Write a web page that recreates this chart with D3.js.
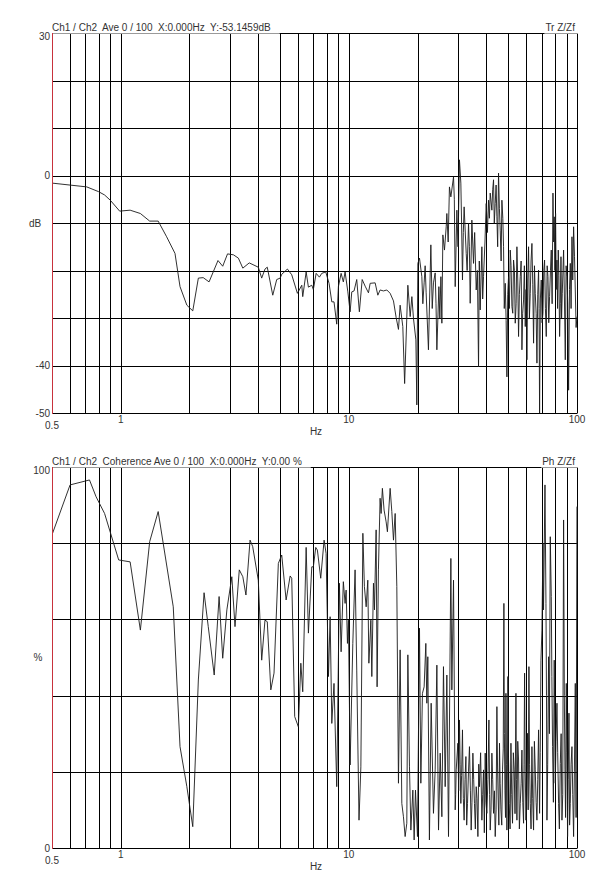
<!DOCTYPE html>
<html><head><meta charset="utf-8">
<script src="https://cdn.jsdelivr.net/npm/d3@7/dist/d3.min.js"></script>
<style>
body{margin:0;background:#fff;}
svg text{font-family:"Liberation Sans",Arial,sans-serif;font-size:10px;fill:#333;}
</style></head><body>
<svg id="chart" width="601" height="889"></svg>
<script>
// ---------- data ----------
const xDomain = [0.5, 100];
const xTickLabels = [0.5, 1, 10, 100];
const trYDomain = [-50, 30];
const trYGrid = [30, 20, 10, 0, -10, -20, -30, -40, -50];
const trYLabels = [30, 0, -40, -50];
const cohYDomain = [0, 100];
const cohYGrid = [100, 80, 60, 40, 20, 0];
const cohYLabels = [100, 0];
const trHeader = "Ch1 / Ch2  Ave 0 / 100  X:0.000Hz  Y:-53.1459dB";
const trRight = "Tr Z/Zf";
const cohHeader = "Ch1 / Ch2  Coherence Ave 0 / 100  X:0.000Hz  Y:0.00 %";
const cohRight = "Ph Z/Zf";

// transfer function magnitude [Hz, dB]
const transferDb = [
[0.50,-1.6],[0.71,-2.4],[0.80,-3.4],[0.85,-4.1],[0.90,-5.2],[0.99,-7.5],[1.10,-7.3],[1.22,-8.0],[1.34,-9.6],[1.46,-9.6],
[1.59,-12.9],[1.73,-16.4],[1.82,-23.4],[1.95,-27.3],[2.07,-28.5],[2.19,-21.6],[2.30,-21.5],[2.44,-22.4],[2.67,-17.9],[2.80,-19.1],
[2.94,-16.5],[3.12,-16.7],[3.28,-17.4],[3.43,-19.5],[3.66,-18.4],[4.01,-19.3],[4.15,-21.6],[4.29,-19.7],[4.39,-19.3],[4.64,-25.2],
[4.83,-21.9],[5.00,-21.6],[5.08,-20.8],[5.38,-19.7],[5.62,-20.9],[5.95,-24.8],[6.22,-23.1],[6.28,-25.5],[6.50,-20.3],[6.65,-23.5],
[6.88,-23.1],[6.99,-24.0],[7.19,-20.6],[7.43,-21.4],[7.61,-20.6],[7.92,-20.3],[8.19,-22.7],[8.42,-26.6],[8.61,-26.6],[8.85,-31.3],
[9.00,-23.4],[9.25,-20.6],[9.46,-22.4],[9.63,-20.3],[9.90,-24.5],[10.13,-28.7],[10.30,-24.5],[10.54,-24.3],[10.83,-21.9],[11.12,-28.7],
[11.44,-21.9],[11.79,-23.3],[12.19,-24.7],[12.40,-22.7],[13.04,-22.6],[13.40,-25.2],[13.71,-24.1],[14.18,-24.3],[14.67,-24.1],[15.17,-24.8],
[15.69,-26.4],[16.12,-29.9],[16.50,-32.4],[16.78,-27.3],[17.24,-31.8],[17.56,-43.8],[18.14,-23.1],[18.57,-29.7],[18.89,-25.5],[19.20,-30.1],
[19.67,-34.6],[19.86,-48.3],[20.07,-18.5],[20.40,-17.4],[20.89,-21.3],[21.10,-27.0],[21.38,-22.6],[21.60,-19.0],[21.82,-24.7],[22.33,-36.7],
[22.88,-14.6],[23.20,-28.0],[23.49,-22.6],[23.90,-20.5],[24.10,-27.0],[24.31,-36.7],[24.81,-23.4],[25.05,-30.0],[25.32,-21.3],[25.57,-31.1],
[25.83,-12.5],[26.25,-15.7],[26.71,-10.8],[26.89,-8.0],[27.25,-14.0],[27.60,-2.4],[28.00,-4.5],[28.76,-0.3],[29.00,-5.0],[29.25,-23.4],
[29.75,-7.3],[30.10,-15.0],[30.54,3.3],[30.97,-1.6],[31.20,-10.0],[31.48,-22.0],[31.75,-12.0],[32.01,-6.6],[32.69,-16.4],[33.00,-20.0],
[33.46,-10.1],[33.75,-15.0],[34.03,-26.9],[34.61,-9.4],[35.19,-18.5],[35.60,-12.0],[36.16,-24.1],[36.60,-20.0],[37.02,-40.3],[37.30,-18.0],
[37.65,-28.3],[38.29,-15.0],[38.60,-26.0],[38.93,-21.3],[39.50,-14.0],[40.00,-5.9],[40.50,-12.0],[40.95,-5.2],[41.30,-9.0],[41.65,-3.7],
[42.36,-7.3],[42.70,-3.0],[43.07,-0.9],[43.40,-10.0],[43.81,-5.9],[44.20,-2.0],[44.56,-8.7],[44.90,-15.0],[45.30,0.5],[45.70,-7.0],
[46.08,-11.5],[46.50,-18.0],[46.86,-5.2],[47.30,-9.0],[47.65,-15.0],[48.00,-28.0],[48.47,-22.7],[48.90,-30.5],[49.29,-42.4],[49.70,-25.0],
[50.12,-21.3],[50.55,-28.0],[50.98,-15.7],[51.40,-19.0],[51.85,-27.6],[52.30,-29.0],[52.71,-17.8],[53.20,-20.0],[53.62,-31.1],[54.10,-27.0],
[54.53,-15.0],[55.00,-22.0],[55.44,-33.9],[55.90,-25.0],[56.40,-21.3],[56.90,-18.0],[57.36,-36.7],[57.80,-29.0],[58.32,-26.2],[58.80,-19.0],
[59.32,-31.8],[59.80,-24.0],[60.33,-38.8],[60.80,-22.0],[61.34,-15.0],[61.85,-30.0],[62.39,-24.8],[62.90,-18.0],[63.45,-14.3],[64.00,-23.0],
[64.51,-35.3],[65.10,-19.0],[65.62,-24.8],[66.20,-29.0],[66.74,-39.5],[67.30,-25.0],[67.85,-19.9],[68.20,-28.0],[68.55,-50.0],[69.10,-26.0],
[69.72,-22.0],[70.30,-31.0],[70.92,-29.0],[71.50,-20.0],[72.09,-17.8],[72.70,-28.0],[73.33,-33.9],[74.00,-19.0],[74.60,-21.3],[75.20,-31.0],
[75.83,-25.5],[76.50,-20.0],[77.13,-15.7],[77.80,-27.0],[78.46,-3.7],[79.00,-14.0],[79.47,-8.7],[80.00,-20.0],[80.56,-8.0],[81.10,-24.0],
[81.69,-17.8],[82.20,-28.0],[82.76,-15.7],[83.30,-21.0],[83.89,-33.9],[84.50,-27.0],[85.07,-17.1],[85.60,-30.0],[86.19,-24.8],[86.80,-20.0],
[87.35,-15.7],[88.10,-26.0],[88.85,-38.8],[89.60,-19.0],[90.36,-21.3],[91.10,-27.0],[91.87,-45.2],[92.70,-24.0],[93.45,-18.5],[94.20,-28.0],
[95.04,-12.9],[95.80,-22.0],[96.63,-10.8],[97.50,-17.0],[98.29,-24.1],[99.10,-32.0],[99.97,-29.7]
];

// coherence [Hz, %]
const coherencePct = [
[0.50,82.2],[0.60,95.3],[0.73,96.6],[0.78,92.2],[0.85,87.8],[0.98,75.6],[1.10,75.1],[1.22,57.2],[1.34,80.4],[1.46,88.3],
[1.70,63.3],[1.82,26.6],[1.95,16.1],[2.07,5.6],[2.19,44.1],[2.32,67.0],[2.42,58.1],[2.57,45.4],[2.70,66.0],[2.80,49.8],
[2.92,62.5],[3.07,71.2],[3.17,58.1],[3.31,73.0],[3.43,71.2],[3.54,66.4],[3.69,80.8],[3.79,79.1],[4.01,70.3],[4.15,49.3],
[4.29,59.8],[4.39,59.4],[4.55,41.5],[4.70,45.9],[4.91,74.7],[5.08,76.9],[5.31,65.1],[5.53,71.4],[5.62,70.8],[5.79,34.5],
[6.01,31.8],[6.16,48.5],[6.28,41.0],[6.50,78.9],[6.65,56.4],[6.88,73.8],[6.99,73.8],[7.16,78.9],[7.28,78.2],[7.53,70.8],
[7.79,80.8],[7.95,77.3],[8.14,45.0],[8.28,60.7],[8.42,32.7],[8.61,43.2],[8.85,16.1],[9.09,69.5],[9.25,51.5],[9.46,69.9],
[9.63,64.2],[9.73,67.7],[9.86,53.7],[9.96,59.8],[10.13,21.8],[10.41,53.7],[10.65,73.0],[10.83,46.7],[11.08,7.3],[11.29,21.3],
[11.52,82.6],[11.70,68.6],[11.91,63.3],[12.11,70.3],[12.24,48.5],[12.49,59.8],[12.61,45.0],[12.82,69.5],[12.95,62.5],[13.17,83.5],
[13.30,42.3],[13.48,73.0],[13.71,91.8],[13.85,87.8],[14.03,94.4],[14.27,88.7],[14.57,85.6],[14.76,83.0],[14.96,88.7],[15.17,94.4],
[15.43,88.3],[15.69,80.8],[15.96,87.8],[16.23,68.6],[16.50,17.0],[16.78,52.0],[17.07,11.7],[17.35,8.2],[17.65,3.0],[17.95,6.5],
[18.14,50.7],[18.44,21.3],[18.70,4.7],[19.08,15.2],[19.33,2.1],[19.59,15.2],[19.99,3.0],[20.40,57.7],[20.68,17.0],[21.02,40.6],
[21.38,42.3],[21.75,53.7],[21.97,38.0],[22.19,50.2],[22.55,2.1],[22.95,38.0],[23.49,9.1],[23.90,20.5],[24.31,48.0],[24.72,4.7],
[25.14,24.9],[25.57,8.2],[25.99,47.6],[26.44,16.1],[26.89,45.4],[27.34,3.0],[28.00,76.0],[28.28,41.5],[28.76,70.3],[29.25,10.0],
[29.40,14.0],[29.55,20.5],[30.05,27.5],[30.30,15.0],[30.54,33.6],[30.75,22.0],[30.97,11.7],[31.20,19.0],[31.48,31.0],[31.75,13.0],
[32.01,7.3],[32.30,18.0],[32.59,24.0],[32.85,6.0],[33.12,11.7],[33.45,20.0],[33.78,26.6],[34.10,15.0],[34.37,4.7],[34.65,12.0],
[34.97,24.9],[35.25,18.0],[35.53,11.7],[35.85,5.0],[36.16,16.1],[36.45,13.0],[36.78,3.0],[37.10,22.0],[37.38,16.1],[37.80,25.0],
[38.29,7.3],[38.60,14.0],[38.93,20.5],[39.25,4.0],[39.60,24.9],[39.90,12.0],[40.27,9.1],[40.70,18.0],[41.11,33.6],[41.40,14.0],
[41.65,4.7],[42.00,10.0],[42.36,24.9],[42.70,18.0],[43.07,9.1],[43.45,15.0],[43.81,3.0],[44.20,10.0],[44.56,37.1],[44.85,21.0],
[45.15,12.6],[45.45,6.0],[45.74,27.5],[46.05,17.0],[46.40,10.0],[46.80,6.0],[47.16,20.5],[47.50,26.0],[47.82,64.2],[48.05,30.0],
[48.33,15.2],[48.60,8.0],[48.81,40.6],[49.05,22.0],[49.29,4.7],[49.55,20.0],[49.80,45.0],[50.10,24.0],[50.45,11.7],[50.90,5.0],
[51.34,27.5],[51.75,14.0],[52.17,6.5],[52.60,25.0],[53.06,20.5],[53.50,9.0],[54.00,40.6],[54.25,18.0],[54.53,7.3],[55.00,28.0],
[55.44,23.1],[55.90,5.0],[56.40,11.7],[56.90,17.0],[57.36,25.7],[57.85,12.0],[58.32,6.5],[58.60,22.0],[58.92,45.9],[59.30,20.0],
[59.74,7.3],[60.20,14.0],[60.71,30.1],[61.10,10.0],[61.56,47.6],[61.95,22.0],[62.39,11.7],[62.90,5.0],[63.45,26.6],[63.95,13.0],
[64.51,4.7],[65.05,28.0],[65.62,20.5],[66.20,12.0],[66.74,7.3],[67.30,18.0],[67.85,31.0],[68.20,20.0],[68.55,9.1],[69.00,25.0],
[69.50,49.3],[70.19,57.2],[70.92,80.0],[71.33,62.5],[72.38,95.3],[73.11,64.2],[73.50,40.0],[73.84,7.3],[74.40,22.0],[75.07,50.2],
[75.70,30.0],[76.36,81.7],[77.13,66.0],[77.60,45.0],[78.15,26.6],[78.80,12.0],[79.47,49.3],[80.32,17.0],[80.90,28.0],[81.69,38.0],
[82.30,25.0],[83.05,11.7],[83.70,5.0],[84.48,22.2],[85.20,30.0],[85.92,7.3],[86.60,14.0],[87.35,86.1],[88.00,40.0],[88.58,20.5],
[89.10,8.0],[89.75,43.2],[90.30,25.0],[90.93,3.0],[91.50,18.0],[92.21,35.4],[92.80,6.0],[93.45,11.7],[94.20,22.0],[95.04,26.6],
[95.80,14.0],[96.63,3.0],[97.40,20.0],[98.29,43.2],[99.10,8.0],[99.97,89.6]
];

// ---------- drawing ----------
const svg = d3.select("#chart");
const L = 52, R = 577;
const x = d3.scaleLog().domain(xDomain).range([L, R]);
const gridX = x.ticks().filter(v => v > xDomain[0] + 1e-9);

function panel(opt) {
  const y = d3.scaleLinear().domain(opt.yDomain).range([opt.bottom, opt.top]);
  const g = svg.append("g");
  g.selectAll("line.h").data(opt.yGrid).join("line")
    .attr("x1", L).attr("x2", R)
    .attr("y1", d => Math.round(y(d)) + 0.5).attr("y2", d => Math.round(y(d)) + 0.5)
    .attr("stroke", "#000").attr("stroke-width", 1);
  g.selectAll("line.v").data(gridX).join("line")
    .attr("x1", d => Math.round(x(d)) + 0.5).attr("x2", d => Math.round(x(d)) + 0.5)
    .attr("y1", opt.top).attr("y2", opt.bottom + 0.5)
    .attr("stroke", "#000").attr("stroke-width", 1);
  g.append("line").attr("x1", L + 0.5).attr("x2", L + 0.5)
    .attr("y1", opt.top).attr("y2", opt.bottom + 1)
    .attr("stroke", "#c8323c").attr("stroke-width", 1);
  g.append("clipPath").attr("id", opt.id + "clip").append("rect")
    .attr("x", L + 1).attr("y", opt.top).attr("width", R - L).attr("height", opt.bottom - opt.top + 1);
  const line = d3.line().x(d => x(d[0])).y(d => y(d[1]));
  g.append("path").datum(opt.data).attr("d", line)
    .attr("clip-path", `url(#${opt.id}clip)`)
    .attr("fill", "none").attr("stroke", "#1a1a1a").attr("stroke-width", 0.9)
    .attr("stroke-linejoin", "round");
  const ht = g.append("text").attr("x", L).attr("y", opt.top - 2).style("white-space", "pre").text(opt.header);
  const hw = ht.node().getComputedTextLength();
  g.insert("rect", "text").attr("x", L + 1).attr("y", opt.top - 12).attr("width", hw + 8).attr("height", 12.6).attr("fill", "#fff");
  const rt = g.append("text").attr("x", R - 2).attr("y", opt.top - 2).attr("text-anchor", "end").text(opt.right);
  const rw = rt.node().getComputedTextLength();
  g.insert("rect", "text").attr("x", R - 2 - rw - 1).attr("y", opt.top - 12).attr("width", rw + 5).attr("height", 12.6).attr("fill", "#fff");
  g.selectAll("text.yl").data(opt.yLabels).join("text")
    .attr("x", L - 2).attr("text-anchor", "end")
    .attr("y", d => y(d) + (d === opt.yDomain[1] ? 6.5 : 3.5))
    .text(d => d);
  g.append("text").attr("x", opt.unitX).attr("y", y(opt.unitAt) + 3.5).attr("text-anchor", "middle").text(opt.unit);
  g.selectAll("text.xl").data(xTickLabels).join("text")
    .attr("x", d => x(d)).attr("text-anchor", "middle")
    .attr("y", d => opt.bottom + (d === 0.5 ? 16 : 10))
    .text(d => d);
  g.append("text").attr("x", 316).attr("y", opt.bottom + 22).attr("text-anchor", "middle").text("Hz");
}

panel({id: "tr", top: 33, bottom: 413, yDomain: trYDomain, yGrid: trYGrid, yLabels: trYLabels,
  data: transferDb, header: trHeader, right: trRight, unit: "dB", unitX: 35, unitAt: -10});
panel({id: "coh", top: 467, bottom: 848, yDomain: cohYDomain, yGrid: cohYGrid, yLabels: cohYLabels,
  data: coherencePct, header: cohHeader, right: cohRight, unit: "%", unitX: 38, unitAt: 50});
</script>
</body></html>
